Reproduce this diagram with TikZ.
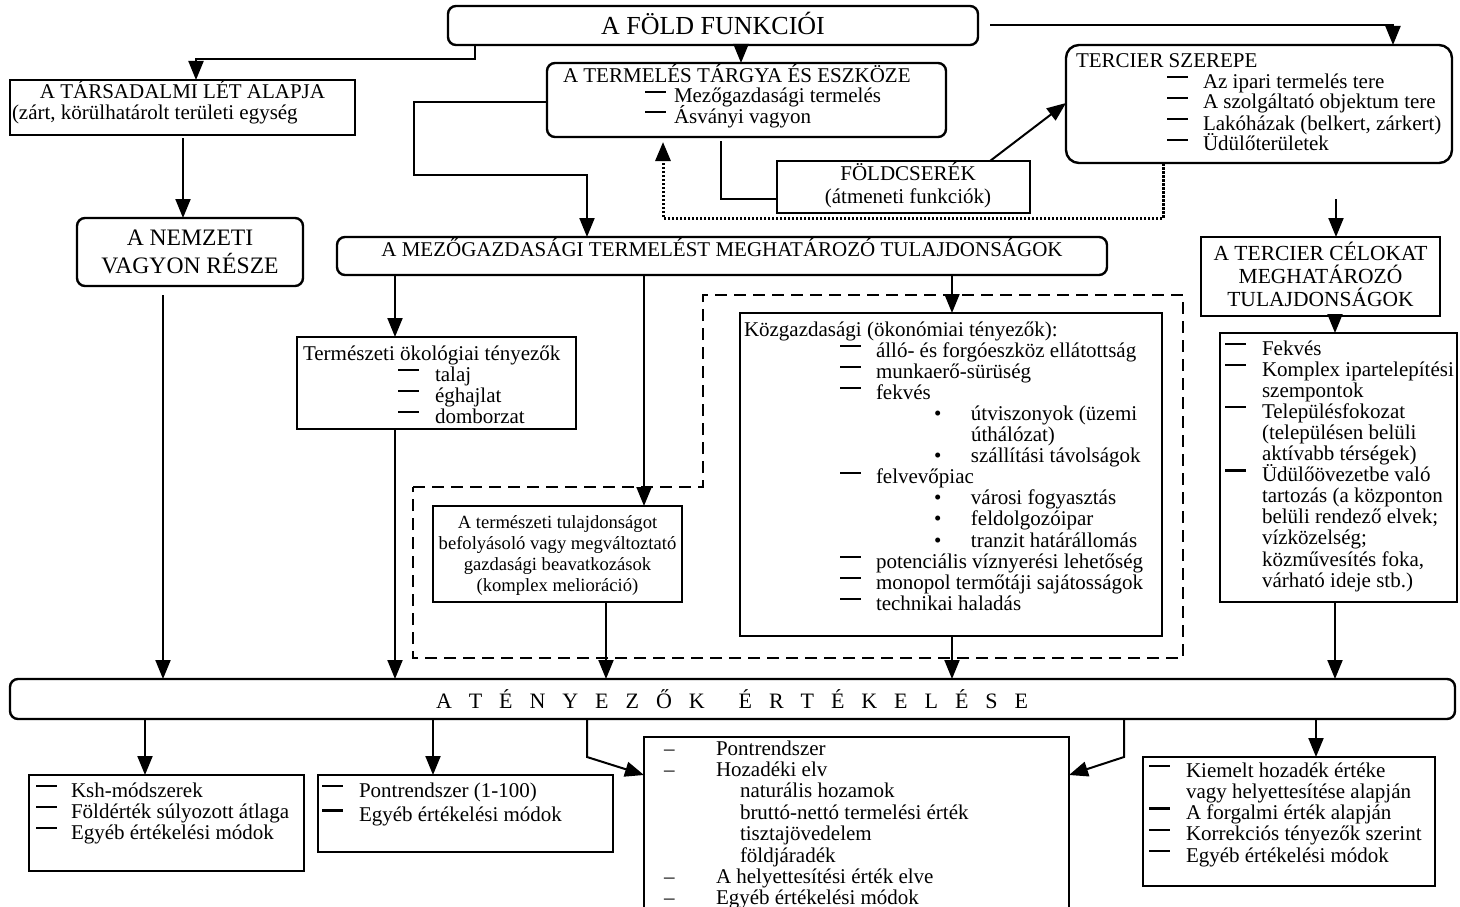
\documentclass[tikz,border=0pt]{standalone}
\usepackage{fontspec}
\setmainfont{Liberation Serif}
\usetikzlibrary{arrows.meta,calc}

\newcommand\dsh{\rule[10pt]{21pt}{2.2pt}}
\newcommand\CL[2]{\hbox to #1pt{\hss#2\hss}}
\newcommand\LL[2]{\hbox{\hskip#1pt\relax#2}}
\newcommand\ML[4]{\hbox{\hskip#2pt\relax\rlap{#1}\hskip\dimexpr#3pt-#2pt\relax#4}}
\newcommand\DL[3]{\ML{\dsh}{#1}{#2}{#3}}
\newcommand\BL[3]{\ML{\textbullet}{#1}{#2}{#3}}
\newcommand\NL[3]{\ML{–}{#1}{#2}{#3}}
\newcommand\TXT[2]{\vtop{\baselineskip=#1pt\lineskiplimit=-\maxdimen\lineskip=0pt #2}}

\begin{document}
\begin{tikzpicture}[x=1pt,y=-1pt,
  bx/.style={draw, line width=2.4pt, inner sep=0pt, outer sep=0pt, anchor=north west},
  rbx/.style={bx, rounded corners=8pt},
  txt/.style={inner sep=0pt, outer sep=0pt, anchor=base west, font=\fontsize{21}{21}\selectfont},
  arr/.style={line width=2pt, -{Triangle[length=19pt,width=15pt]}},
  lnk/.style={line width=2pt},
  dotarr/.style={line width=3pt, dash pattern=on 2.5pt off 1.5pt, -{Triangle[length=19pt,width=15pt]}},
  dashbox/.style={line width=2.2pt, dash pattern=on 12pt off 7pt}]
\useasboundingbox (0,0) rectangle (1460,907);
\fill[white] (0,0) rectangle (1460,907);
\clip (0,0) rectangle (1460,907);

% ---------- boxes ----------
\node[rbx, minimum width=530pt, minimum height=39pt] (fold) at (448,6) {};
\node[bx, line width=1.4pt, minimum width=345pt, minimum height=55pt] (tars) at (10,80) {};
\node[rbx, minimum width=226pt, minimum height=68pt] (nemz) at (77,218) {};
\node[rbx, minimum width=399pt, minimum height=74pt] (term) at (547,63) {};
\node[bx, minimum width=253pt, minimum height=52pt] (fcs) at (777,161) {};
\node[bx, rounded corners=13pt, minimum width=386pt, minimum height=118pt] (terc) at (1066,45) {};
\node[bx, minimum width=239pt, minimum height=79pt] (celo) at (1201,237) {};
\node[bx, minimum width=237pt, minimum height=269pt] (tlist) at (1220,333) {};
\node[rbx, minimum width=770pt, minimum height=38pt] (mezo) at (337,237) {};
\node[bx, minimum width=279pt, minimum height=92pt] (ter) at (297,337) {};
\node[bx, minimum width=249pt, minimum height=96pt] (mel) at (433,506) {};
\node[bx, minimum width=422pt, minimum height=323pt] (kozg) at (740,313) {};
\node[rbx, minimum width=1445pt, minimum height=40pt] (big) at (10,679) {};
\node[bx, minimum width=275pt, minimum height=96pt] (ksh) at (29,775) {};
\node[bx, minimum width=295pt, minimum height=77pt] (pont) at (318,775) {};
\node[bx, minimum width=425pt, minimum height=200pt] (mid) at (644,737) {};
\node[bx, minimum width=292pt, minimum height=129pt] (rb) at (1143,757) {};

% dashed grouping outline
\draw[dashbox] (413,487) -- (703,487) -- (703,295) -- (1183,295) -- (1183,658) -- (413,658) -- cycle;

% ---------- texts ----------
\node[txt, font=\fontsize{26}{26}\selectfont] (tfold) at (448,35) {\CL{530}{A FÖLD FUNKCIÓI}};
\node[txt] (ttars) at (10,99) {\TXT{21}{\CL{345}{A TÁRSADALMI LÉT ALAPJA}\LL{2}{(zárt, körülhatárolt területi egység}}};
\node[txt, font=\fontsize{23.6}{24}\selectfont] (tnemz) at (77,245) {\TXT{28}{\CL{226}{A NEMZETI}\CL{226}{VAGYON RÉSZE}}};
\node[txt] (tterm) at (547,83) {\TXT{20}{\LL{16}{A TERMELÉS TÁRGYA ÉS ESZKÖZE}\DL{98}{127}{Mezőgazdasági termelés}\DL{98}{127}{Ásványi vagyon}}};
\node[txt] (tfcs) at (777,180) {\TXT{23}{\CL{262}{FÖLDCSERÉK}\CL{262}{(átmeneti funkciók)}}};
\node[txt] (tterc) at (1066,67) {\TXT{21}{\LL{10}{TERCIER SZEREPE}\DL{101}{137}{Az ipari termelés tere}\DL{101}{137}{A szolgáltató objektum tere}\DL{101}{137}{Lakóházak (belkert, zárkert)}\DL{101}{137}{Üdülőterületek}}};
\node[txt, font=\fontsize{21.5}{22}\selectfont] (tcelo) at (1201,260) {\TXT{23.3}{\CL{239}{A TERCIER CÉLOKAT}\CL{239}{MEGHATÁROZÓ}\CL{239}{TULAJDONSÁGOK}}};
\node[txt] (ttlist) at (1220,355) {\TXT{21.1}{\DL{5}{42}{Fekvés}\DL{5}{42}{Komplex ipartelepítési}\LL{42}{szempontok}\DL{5}{42}{Településfokozat}\LL{42}{(településen belüli}\LL{42}{aktívabb térségek)}\DL{5}{42}{Üdülőövezetbe való}\LL{42}{tartozás (a központon}\LL{42}{belüli rendező elvek;}\LL{42}{vízközelség;}\LL{42}{közművesítés foka,}\LL{42}{várható ideje stb.)}}};
\node[txt] (tmezo) at (337,256) {\CL{770}{A MEZŐGAZDASÁGI TERMELÉST MEGHATÁROZÓ TULAJDONSÁGOK}};
\node[txt] (tter) at (297,360) {\TXT{21}{\LL{6}{Természeti ökológiai tényezők}\DL{101}{138}{talaj}\DL{101}{138}{éghajlat}\DL{101}{138}{domborzat}}};
\node[txt, font=\fontsize{18.6}{19}\selectfont] (tmel) at (433,528) {\TXT{21}{\CL{249}{A természeti tulajdonságot}\CL{249}{befolyásoló vagy megváltoztató}\CL{249}{gazdasági beavatkozások}\CL{249}{(komplex melioráció)}}};
\node[txt] (tkozg) at (740,336) {\TXT{21.1}{\LL{4}{Közgazdasági (ökonómiai tényezők):}\DL{100}{136}{álló- és forgóeszköz ellátottság}\DL{100}{136}{munkaerő-sürüség}\DL{100}{136}{fekvés}\BL{194}{231}{útviszonyok (üzemi}\LL{231}{úthálózat)}\BL{194}{231}{szállítási távolságok}\DL{100}{136}{felvevőpiac}\BL{194}{231}{városi fogyasztás}\BL{194}{231}{feldolgozóipar}\BL{194}{231}{tranzit határállomás}\DL{100}{136}{potenciális víznyerési lehetőség}\DL{100}{136}{monopol termőtáji sajátosságok}\DL{100}{136}{technikai haladás}}};
\node[txt, font=\fontsize{22}{22}\selectfont] (tbig) at (436,708) {\hbox to 592pt{A\hfill T\hfill É\hfill N\hfill Y\hfill E\hfill Z\hfill Ő\hfill K\hfill\hfill É\hfill R\hfill T\hfill É\hfill K\hfill E\hfill L\hfill É\hfill S\hfill E}};
\node[txt] (tksh) at (29,797) {\TXT{21}{\DL{7}{42}{Ksh-módszerek}\DL{7}{42}{Földérték súlyozott átlaga}\DL{7}{42}{Egyéb értékelési módok}}};
\node[txt] (tpont) at (318,797) {\TXT{24.5}{\DL{4}{41}{Pontrendszer (1-100)}\DL{4}{41}{Egyéb értékelési módok}}};
\node[txt] (tmid) at (644,755) {\TXT{21.4}{\NL{20}{72}{Pontrendszer}\NL{20}{72}{Hozadéki elv}\LL{96}{naturális hozamok}\LL{96}{bruttó-nettó termelési érték}\LL{96}{tisztajövedelem}\LL{96}{földjáradék}\NL{20}{72}{A helyettesítési érték elve}\NL{20}{72}{Egyéb értékelési módok}}};
\node[txt] (trb) at (1143,777) {\TXT{21.3}{\DL{6}{43}{Kiemelt hozadék értéke}\LL{43}{vagy helyettesítése alapján}\DL{6}{43}{A forgalmi érték alapján}\DL{6}{43}{Korrekciós tényezők szerint}\DL{6}{43}{Egyéb értékelési módok}}};

% ---------- connectors ----------
\draw[arr] ($(fold.south west)+(27,0)$) -- ++(0,14) -| ($(tars.north west)+(186,0)$);
\draw[arr] ($(tars.south west)+(173,3)$) coordinate (c2) -- (c2 |- nemz.north);
\draw[arr] ($(nemz.south west)+(86,9)$) coordinate (c3) -- (c3 |- big.north);
\draw[arr] ($(fold.south west)+(293,0)$) coordinate (c4) -- (c4 |- term.north);
\draw[arr] ($(term.north west)+(0,39)$) -- ++(-133,0) -- ++(0,73) -| ($(mezo.north west)+(250,0)$);
\draw[lnk] ($(term.south west)+(174,4)$) |- ($(fcs.north west)+(0,38)$);
\draw[dotarr] ($(terc.south west)+(97,0)$) -- ++(0,55) -| ($(term.south west)+(116,5)$);
\draw[arr] ($(fcs.north west)+(213,0)$) -- ($(terc.north west)+(0,58)$);
\draw[arr] ($(fold.east)+(12,0)$) -| ($(terc.north west)+(327,0)$);
\coordinate (free) at (1336,199);
\draw[arr] (free) -- (free |- celo.north);
\draw[arr] ($(celo.south west)+(134,0)$) coordinate (c11) -- (c11 |- tlist.north);
\draw[arr] (c11 |- tlist.south) -- (c11 |- big.north);
\draw[arr] ($(mezo.south west)+(58,0)$) coordinate (c13) -- (c13 |- ter.north);
\draw[arr] (c13 |- ter.south) -- (c13 |- big.north);
\draw[arr] ($(mezo.south west)+(307,0)$) coordinate (c15) -- (c15 |- mel.north);
\draw[arr] ($(mel.south west)+(173,0)$) coordinate (c16) -- (c16 |- big.north);
\draw[arr] ($(mezo.south west)+(615,0)$) coordinate (c17) -- (c17 |- kozg.north);
\draw[arr] (c17 |- kozg.south) -- (c17 |- big.north);
\draw[arr] ($(big.south west)+(135,0)$) coordinate (c19) -- (c19 |- ksh.north);
\draw[arr] ($(big.south west)+(423,0)$) coordinate (c20) -- (c20 |- pont.north);
\draw[arr] ($(big.south west)+(577,0)$) -- ++(0,38) -- ($(mid.north west)+(0,38)$);
\draw[arr] ($(big.south west)+(1114,0)$) -- ++(0,38) -- ($(mid.north east)+(0,38)$);
\draw[arr] ($(big.south west)+(1306,0)$) coordinate (c23) -- (c23 |- rb.north);
\end{tikzpicture}
\end{document}
